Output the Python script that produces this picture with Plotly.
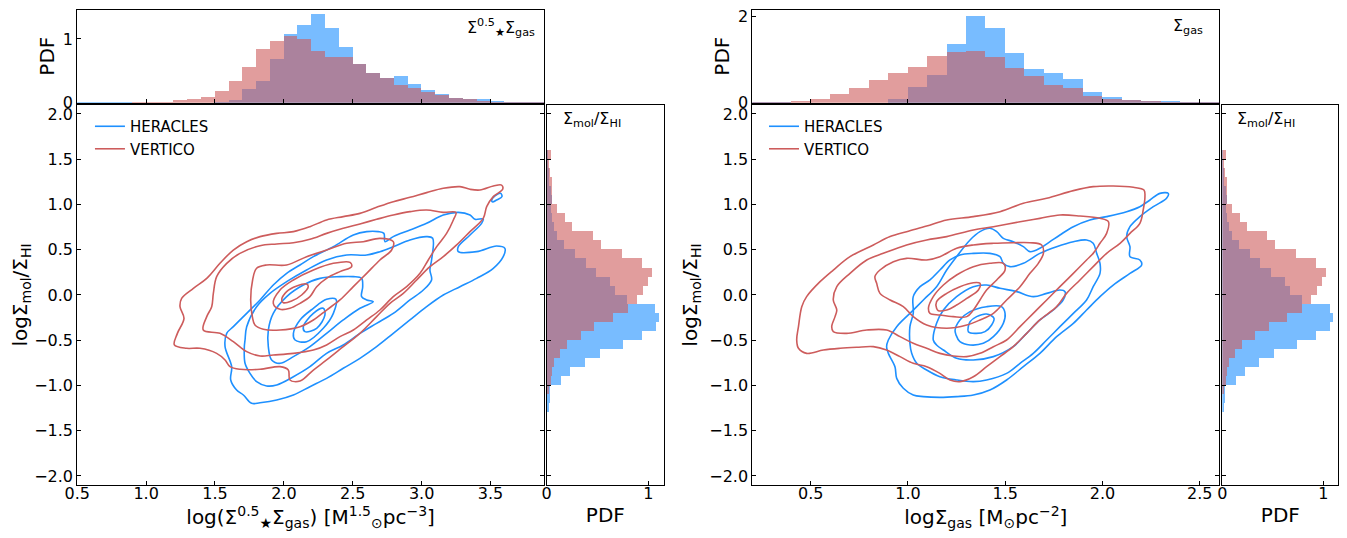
import plotly.graph_objects as go

FONT = "DejaVu Sans"
BLUE = "#1E90FF"
RED = "#CD5C5C"

# ---------------- histogram data (bin lower edges, bin width 0.1) ----------------
top_left_edges = [0.5, 0.6, 0.7, 0.8, 0.9, 1.0, 1.1, 1.2, 1.3, 1.4, 1.5, 1.6, 1.7, 1.8, 1.9, 2.0, 2.1,
                  2.2, 2.3, 2.4, 2.5, 2.6, 2.7, 2.8, 2.9, 3.0, 3.1, 3.2, 3.3, 3.4, 3.5, 3.6, 3.7, 3.8]
top_left_heracles = [0.005, 0.005, 0.005, 0.005, 0.0, 0.0, 0.0, 0.0, 0.0, 0.0, 0.005, 0.05, 0.22, 0.35, 0.69,
                     1.08, 1.23, 1.39, 1.18, 0.88, 0.62, 0.48, 0.40, 0.42, 0.30, 0.21, 0.15, 0.08, 0.07,
                     0.06, 0.03, 0.01, 0.01, 0.025]
top_left_vertico = [0.0, 0.0, 0.0, 0.0, 0.01, 0.01, 0.01, 0.055, 0.07, 0.10, 0.19, 0.35, 0.56, 0.85, 0.97,
                    1.06, 1.01, 0.81, 0.73, 0.73, 0.62, 0.47, 0.39, 0.29, 0.23, 0.17, 0.13, 0.08, 0.06,
                    0.04, 0.025, 0.015, 0.01, 0.005]

top_right_edges = [0.2, 0.3, 0.4, 0.5, 0.6, 0.7, 0.8, 0.9, 1.0, 1.1, 1.2, 1.3, 1.4, 1.5, 1.6, 1.7,
                   1.8, 1.9, 2.0, 2.1, 2.2, 2.3, 2.4, 2.5]
top_right_heracles = [0.01, 0.01, 0.0, 0.0, 0.0, 0.0, 0.0, 0.10, 0.37, 0.66, 1.38, 2.02, 1.74, 1.16,
                      0.78, 0.71, 0.57, 0.26, 0.15, 0.08, 0.06, 0.04, 0.015, 0.015]
top_right_vertico = [0.015, 0.015, 0.06, 0.10, 0.22, 0.35, 0.53, 0.71, 0.84, 1.09, 1.18, 1.22, 1.07,
                     0.82, 0.62, 0.42, 0.35, 0.17, 0.10, 0.08, 0.04, 0.015, 0.015, 0.01]

ratio_edges = [1.5, 1.4, 1.3, 1.2, 1.1, 1.0, 0.9, 0.8, 0.7, 0.6, 0.5, 0.4, 0.3, 0.2, 0.1, 0.0, -0.1,
               -0.2, -0.3, -0.4, -0.5, -0.6, -0.7, -0.8, -0.9, -1.0, -1.1, -1.2, -1.3]
ratio_heracles = [0.007, 0.007, 0.013, 0.020, 0.043, 0.046, 0.043, 0.046, 0.073, 0.102, 0.165, 0.274,
                  0.380, 0.482, 0.620, 0.670, 0.789, 1.066, 1.102, 1.073, 0.934, 0.746, 0.518, 0.370,
                  0.231, 0.142, 0.033, 0.033, 0.010]
ratio_vertico = [0.036, 0.023, 0.030, 0.050, 0.053, 0.053, 0.102, 0.182, 0.251, 0.449, 0.528, 0.736,
                 0.934, 1.033, 0.993, 0.944, 0.884, 0.795, 0.647, 0.462, 0.330, 0.201, 0.132, 0.066,
                 0.053, 0.036, 0.010, 0.0, 0.0]

# ---------------- density contours (x, y) ----------------
# left panel: x = log(S*^0.5 Sgas), y = log(Smol/SHI)
left_heracles_1 = [[1.585,-0.424],[1.573,-0.571],[1.621,-0.792],[1.614,-0.939],[1.657,-1.050],[1.706,-1.105],[1.766,-1.197],[1.827,-1.190],[1.948,-1.160],[2.069,-1.105],[2.189,-1.013],[2.310,-0.921],[2.431,-0.810],[2.552,-0.700],[2.673,-0.571],[2.794,-0.424],[2.915,-0.276],[3.036,-0.129],[3.157,0.000],[3.278,0.092],[3.399,0.184],[3.520,0.295],[3.592,0.424],[3.604,0.516],[3.544,0.542],[3.399,0.479],[3.266,0.479],[3.266,0.534],[3.351,0.663],[3.435,0.792],[3.447,0.840],[3.387,0.836],[3.351,0.884],[3.266,0.913],[3.157,0.884],[3.036,0.792],[2.915,0.718],[2.794,0.645],[2.734,0.589],[2.726,0.681],[2.685,0.700],[2.601,0.700],[2.504,0.663],[2.359,0.534],[2.214,0.424],[2.117,0.332],[2.020,0.239],[1.923,0.110],[1.827,-0.055],[1.730,-0.203],[1.633,-0.350]]
left_heracles_island = [[3.508,1.042],[3.532,1.094],[3.573,1.123],[3.583,1.087],[3.544,1.050],[3.515,1.028]]
left_heracles_2 = [[1.718,-0.497],[1.730,-0.350],[1.802,-0.129],[1.899,0.018],[2.020,0.147],[2.165,0.276],[2.310,0.387],[2.456,0.442],[2.601,0.442],[2.697,0.479],[2.794,0.534],[2.915,0.608],[3.036,0.645],[3.080,0.626],[3.072,0.387],[3.060,0.276],[3.072,0.166],[3.012,0.055],[2.915,-0.055],[2.794,-0.203],[2.673,-0.313],[2.552,-0.424],[2.431,-0.552],[2.310,-0.645],[2.189,-0.792],[2.069,-0.903],[1.948,-0.994],[1.875,-1.005],[1.802,-0.957],[1.754,-0.866],[1.718,-0.755],[1.713,-0.571]]
left_heracles_3 = [[1.887,-0.387],[1.923,-0.203],[2.020,-0.018],[2.141,0.110],[2.262,0.184],[2.407,0.203],[2.504,0.203],[2.564,0.184],[2.572,0.092],[2.564,-0.018],[2.601,-0.055],[2.649,-0.074],[2.552,-0.147],[2.431,-0.276],[2.310,-0.424],[2.189,-0.571],[2.069,-0.681],[1.972,-0.755],[1.911,-0.718],[1.887,-0.571]]
left_heracles_4 = [[2.069,-0.424],[2.117,-0.276],[2.214,-0.147],[2.310,-0.048],[2.378,-0.048],[2.359,-0.203],[2.286,-0.368],[2.165,-0.516],[2.081,-0.497]]
left_heracles_5 = [[2.141,-0.350],[2.214,-0.203],[2.286,-0.147],[2.298,-0.221],[2.238,-0.368],[2.153,-0.405]]

left_vertico_1 = [[1.205,-0.552],[1.227,-0.424],[1.275,-0.258],[1.246,-0.129],[1.258,-0.037],[1.343,0.074],[1.440,0.184],[1.536,0.350],[1.633,0.497],[1.730,0.589],[1.827,0.645],[1.948,0.681],[2.069,0.700],[2.189,0.755],[2.310,0.829],[2.431,0.866],[2.552,0.902],[2.673,0.969],[2.794,1.031],[2.915,1.079],[3.036,1.131],[3.157,1.179],[3.278,1.197],[3.351,1.168],[3.423,1.160],[3.520,1.204],[3.580,1.215],[3.588,1.168],[3.520,1.087],[3.472,0.976],[3.447,0.847],[3.351,0.700],[3.254,0.553],[3.157,0.424],[3.060,0.313],[2.964,0.166],[2.867,0.018],[2.770,-0.092],[2.673,-0.239],[2.552,-0.424],[2.431,-0.571],[2.310,-0.718],[2.214,-0.829],[2.117,-0.950],[2.044,-0.939],[2.032,-0.829],[1.972,-0.792],[1.827,-0.821],[1.681,-0.821],[1.609,-0.792],[1.573,-0.718],[1.512,-0.645],[1.391,-0.589],[1.294,-0.589]]
left_vertico_2 = [[1.415,-0.387],[1.440,-0.239],[1.476,-0.129],[1.488,0.018],[1.512,0.203],[1.585,0.350],[1.681,0.460],[1.827,0.545],[1.948,0.564],[2.069,0.578],[2.189,0.615],[2.310,0.681],[2.431,0.737],[2.552,0.785],[2.673,0.836],[2.794,0.884],[2.915,0.921],[3.036,0.939],[3.157,0.913],[3.249,0.913],[3.230,0.829],[3.181,0.681],[3.109,0.534],[3.048,0.387],[2.988,0.239],[2.891,0.092],[2.794,-0.018],[2.697,-0.166],[2.601,-0.276],[2.504,-0.387],[2.407,-0.460],[2.310,-0.552],[2.214,-0.608],[2.069,-0.645],[1.923,-0.663],[1.827,-0.674],[1.730,-0.626],[1.633,-0.516],[1.536,-0.424]]
left_vertico_3 = [[1.771,-0.239],[1.759,-0.055],[1.773,0.166],[1.802,0.295],[1.875,0.332],[2.020,0.332],[2.165,0.424],[2.310,0.497],[2.456,0.571],[2.576,0.589],[2.697,0.626],[2.794,0.589],[2.782,0.497],[2.697,0.387],[2.601,0.239],[2.504,0.092],[2.407,-0.055],[2.310,-0.166],[2.214,-0.276],[2.117,-0.350],[1.972,-0.387],[1.851,-0.379],[1.790,-0.332]]
left_vertico_4 = [[1.923,-0.092],[1.972,0.055],[2.069,0.166],[2.214,0.276],[2.359,0.350],[2.480,0.361],[2.492,0.313],[2.407,0.258],[2.310,0.184],[2.238,0.092],[2.189,-0.018],[2.117,-0.092],[2.044,-0.147],[1.972,-0.158]]
left_vertico_5 = [[1.984,-0.055],[2.020,0.037],[2.093,0.099],[2.165,0.122],[2.177,0.092],[2.129,0.000],[2.056,-0.066],[1.996,-0.085]]

# right panel: x = log(Sgas), y = log(Smol/SHI)
right_heracles_1 = [[0.890,-0.571],[0.899,-0.497],[0.942,-0.350],[1.010,-0.203],[1.079,-0.055],[1.147,0.092],[1.199,0.276],[1.250,0.424],[1.319,0.608],[1.370,0.700],[1.421,0.737],[1.456,0.700],[1.490,0.626],[1.541,0.589],[1.593,0.534],[1.627,0.479],[1.678,0.516],[1.730,0.589],[1.781,0.663],[1.850,0.755],[1.935,0.829],[2.021,0.866],[2.124,0.921],[2.192,0.976],[2.244,1.050],[2.295,1.123],[2.338,1.123],[2.329,1.068],[2.261,0.976],[2.192,0.866],[2.141,0.755],[2.124,0.645],[2.141,0.534],[2.141,0.424],[2.192,0.387],[2.201,0.332],[2.141,0.239],[2.055,0.110],[1.987,-0.018],[1.918,-0.166],[1.850,-0.313],[1.764,-0.460],[1.678,-0.645],[1.593,-0.792],[1.507,-0.939],[1.421,-1.050],[1.336,-1.105],[1.250,-1.123],[1.164,-1.131],[1.079,-1.123],[1.027,-1.105],[0.976,-1.031],[0.942,-0.921],[0.933,-0.792],[0.899,-0.645]]
right_heracles_2 = [[1.010,-0.534],[1.010,-0.350],[1.027,-0.203],[1.027,-0.018],[1.062,0.092],[1.113,0.166],[1.164,0.276],[1.216,0.387],[1.267,0.442],[1.336,0.460],[1.421,0.460],[1.473,0.424],[1.490,0.350],[1.524,0.313],[1.593,0.350],[1.678,0.460],[1.764,0.534],[1.850,0.589],[1.918,0.608],[1.952,0.571],[1.970,0.460],[1.987,0.350],[1.987,0.239],[1.952,0.092],[1.918,-0.055],[1.850,-0.203],[1.781,-0.350],[1.713,-0.497],[1.644,-0.645],[1.576,-0.755],[1.507,-0.866],[1.404,-0.939],[1.336,-0.957],[1.250,-0.939],[1.164,-0.903],[1.096,-0.829],[1.045,-0.755],[1.019,-0.645]]
right_heracles_3 = [[1.130,-0.497],[1.147,-0.313],[1.182,-0.166],[1.250,-0.018],[1.336,0.092],[1.404,0.110],[1.473,0.074],[1.559,0.037],[1.644,-0.018],[1.713,0.018],[1.781,0.055],[1.807,0.037],[1.798,-0.055],[1.747,-0.166],[1.678,-0.276],[1.610,-0.424],[1.541,-0.571],[1.439,-0.681],[1.336,-0.718],[1.250,-0.700],[1.182,-0.608],[1.147,-0.552]]
right_heracles_4 = [[1.242,-0.387],[1.267,-0.276],[1.319,-0.184],[1.404,-0.129],[1.481,-0.129],[1.499,-0.203],[1.490,-0.313],[1.439,-0.460],[1.387,-0.534],[1.319,-0.552],[1.267,-0.516],[1.247,-0.442]]
right_heracles_5 = [[1.310,-0.350],[1.319,-0.295],[1.353,-0.239],[1.404,-0.210],[1.442,-0.258],[1.430,-0.332],[1.396,-0.405],[1.344,-0.424],[1.310,-0.405]]

right_vertico_1 = [[0.428,-0.497],[0.437,-0.350],[0.454,-0.129],[0.479,-0.018],[0.548,0.147],[0.616,0.276],[0.702,0.424],[0.822,0.553],[0.908,0.645],[0.993,0.700],[1.096,0.762],[1.199,0.829],[1.336,0.866],[1.473,0.921],[1.593,1.013],[1.713,1.068],[1.850,1.153],[1.952,1.197],[2.055,1.204],[2.158,1.190],[2.213,1.160],[2.218,1.087],[2.209,0.939],[2.192,0.792],[2.141,0.681],[2.090,0.571],[2.021,0.460],[1.952,0.313],[1.884,0.166],[1.815,0.018],[1.764,-0.129],[1.678,-0.276],[1.610,-0.424],[1.541,-0.571],[1.473,-0.681],[1.404,-0.792],[1.336,-0.903],[1.267,-0.957],[1.216,-0.939],[1.164,-0.866],[1.096,-0.792],[1.027,-0.755],[0.959,-0.681],[0.890,-0.608],[0.822,-0.571],[0.736,-0.578],[0.651,-0.589],[0.565,-0.608],[0.479,-0.645],[0.437,-0.589]]
right_vertico_2 = [[0.608,-0.350],[0.625,-0.239],[0.634,-0.166],[0.616,-0.055],[0.634,0.092],[0.702,0.239],[0.788,0.387],[0.873,0.460],[0.993,0.553],[1.096,0.608],[1.199,0.645],[1.336,0.718],[1.439,0.755],[1.576,0.810],[1.678,0.847],[1.781,0.884],[1.884,0.873],[1.987,0.847],[2.030,0.810],[2.021,0.681],[1.987,0.571],[1.952,0.460],[1.918,0.387],[1.850,0.239],[1.781,0.092],[1.713,-0.055],[1.644,-0.203],[1.576,-0.350],[1.507,-0.497],[1.439,-0.571],[1.370,-0.645],[1.302,-0.681],[1.233,-0.674],[1.164,-0.645],[1.096,-0.589],[1.027,-0.534],[0.959,-0.460],[0.890,-0.387],[0.788,-0.387],[0.685,-0.424],[0.616,-0.405]]
right_vertico_3 = [[0.839,0.129],[0.830,0.203],[0.856,0.276],[0.925,0.368],[0.993,0.405],[1.096,0.387],[1.164,0.424],[1.250,0.516],[1.336,0.553],[1.439,0.571],[1.541,0.578],[1.627,0.578],[1.687,0.553],[1.696,0.460],[1.670,0.350],[1.627,0.239],[1.576,0.092],[1.507,-0.055],[1.439,-0.203],[1.370,-0.276],[1.302,-0.332],[1.199,-0.368],[1.096,-0.332],[1.027,-0.239],[0.976,-0.129],[0.908,-0.055],[0.856,0.018]]
right_vertico_4 = [[1.105,-0.147],[1.130,-0.018],[1.182,0.110],[1.250,0.221],[1.336,0.313],[1.421,0.350],[1.490,0.350],[1.499,0.276],[1.456,0.166],[1.404,0.055],[1.370,-0.055],[1.336,-0.166],[1.302,-0.239],[1.233,-0.239],[1.164,-0.221],[1.113,-0.203]]
right_vertico_5 = [[1.147,-0.147],[1.147,-0.074],[1.199,0.018],[1.267,0.092],[1.336,0.136],[1.370,0.129],[1.362,0.055],[1.302,-0.037],[1.250,-0.111],[1.199,-0.166],[1.156,-0.173]]

left_heracles = [left_heracles_1, left_heracles_island, left_heracles_2, left_heracles_3, left_heracles_4, left_heracles_5]
left_vertico = [left_vertico_1, left_vertico_2, left_vertico_3, left_vertico_4, left_vertico_5]
right_heracles = [right_heracles_1, right_heracles_2, right_heracles_3, right_heracles_4, right_heracles_5]
right_vertico = [right_vertico_1, right_vertico_2, right_vertico_3, right_vertico_4, right_vertico_5]

main_x_ticks_left = [0.5, 1.0, 1.5, 2.0, 2.5, 3.0, 3.5]
main_x_ticks_right = [0.5, 1.0, 1.5, 2.0, 2.5]
main_y_ticks = [-2.0, -1.5, -1.0, -0.5, 0.0, 0.5, 1.0, 1.5, 2.0]

fig = go.Figure()


def add_contours(paths, color, name, xa, ya, legend):
    for i, path in enumerate(paths):
        xs = [p[0] for p in path] + [path[0][0]]
        ys = [p[1] for p in path] + [path[0][1]]
        fig.add_trace(go.Scatter(
            x=xs, y=ys, mode="lines", xaxis=xa, yaxis=ya,
            line=dict(color=color, width=1.6, shape="spline", smoothing=1.0),
            name=name, legendgroup=name + legend, showlegend=(i == 0), legend=legend,
            hoverinfo="skip"))


def add_bars(pos, val, color, xa, ya, horizontal=False):
    if horizontal:
        tr = go.Bar(y=pos, x=val, orientation="h", width=0.1, offset=0)
    else:
        tr = go.Bar(x=pos, y=val, width=0.1, offset=0)
    tr.update(marker=dict(color=color, opacity=0.6, line=dict(width=0)),
              xaxis=xa, yaxis=ya, showlegend=False, hoverinfo="skip")
    fig.add_trace(tr)


# histograms: HERACLES first, VERTICO drawn over it
add_bars(top_left_edges, top_left_heracles, BLUE, "x2", "y2")
add_bars(top_left_edges, top_left_vertico, RED, "x2", "y2")
add_bars(ratio_edges, ratio_heracles, BLUE, "x3", "y3", horizontal=True)
add_bars(ratio_edges, ratio_vertico, RED, "x3", "y3", horizontal=True)
add_bars(top_right_edges, top_right_heracles, BLUE, "x5", "y5")
add_bars(top_right_edges, top_right_vertico, RED, "x5", "y5")
add_bars(ratio_edges, ratio_heracles, BLUE, "x6", "y6", horizontal=True)
add_bars(ratio_edges, ratio_vertico, RED, "x6", "y6", horizontal=True)

add_contours(left_heracles, BLUE, "HERACLES", "x", "y", "legend")
add_contours(left_vertico, RED, "VERTICO", "x", "y", "legend")
add_contours(right_heracles, BLUE, "HERACLES", "x4", "y4", "legend2")
add_contours(right_vertico, RED, "VERTICO", "x4", "y4", "legend2")

tickfont = dict(family=FONT, size=16, color="black")
titlefont = dict(family=FONT, size=20, color="black")


def ax(**kw):
    base = dict(showline=True, linecolor="black", linewidth=1, mirror=True, ticks="inside",
                ticklen=4, tickcolor="black", showgrid=False, zeroline=False, tickfont=tickfont,
                automargin=False, ticklabeloverflow="allow")
    base.update(kw)
    return base


# page is drawn 8px in from the window's top-left corner; figure sized to fit the window
W, H = 1339, 530
Y_MAIN = [0.1006, 0.8164]
Y_TOP = [0.8213, 0.997]
ymain_title = dict(text="logΣ<sub>mol</sub>/Σ<sub>HI</sub>", font=titlefont, standoff=6)
xlab_shift = -6

fig.update_layout(
    width=W, height=H,
    margin=dict(l=0, r=0, t=0, b=0),
    paper_bgcolor="white", plot_bgcolor="white",
    barmode="overlay", bargap=0, hovermode=False,
    font=dict(family=FONT, color="black"),
    # left panel
    xaxis=ax(domain=[0.0517, 0.4003], range=[0.5, 3.888], anchor="y", tickvals=main_x_ticks_left,
             tickformat=".1f", ticklabelstandoff=xlab_shift,
             title=dict(text="log(Σ<sup>0.5</sup><sub>★</sub>Σ<sub>gas</sub>) [M<sup>1.5</sup><sub>⊙</sub>pc<sup>−3</sup>]",
                        font=titlefont, standoff=6)),
    yaxis=ax(domain=Y_MAIN, range=[-2.096, 2.096], anchor="x", tickvals=main_y_ticks, tickformat=".1f",
             mirror="ticks", title=ymain_title),
    xaxis2=ax(domain=[0.0517, 0.4003], range=[0.5, 3.888], anchor="y2", matches="x",
              tickvals=main_x_ticks_left, showticklabels=False),
    yaxis2=ax(domain=Y_TOP, range=[0, 1.46], anchor="x2", tickvals=[0, 1],
              title=dict(text="PDF", font=titlefont, standoff=2)),
    xaxis3=ax(domain=[0.4023, 0.4899], range=[0, 1.155], anchor="y3", tickvals=[0, 1],
              ticklabelstandoff=xlab_shift,
              title=dict(text="PDF", font=titlefont, standoff=6)),
    yaxis3=ax(domain=Y_MAIN, range=[-2.096, 2.096], anchor="x3", matches="y",
              tickvals=main_y_ticks, showticklabels=False),
    # right panel
    xaxis4=ax(domain=[0.5559, 0.9046], range=[0.2, 2.6], anchor="y4", tickvals=main_x_ticks_right,
              tickformat=".1f", ticklabelstandoff=xlab_shift,
              title=dict(text="logΣ<sub>gas</sub> [M<sub>⊙</sub>pc<sup>−2</sup>]", font=titlefont, standoff=6)),
    yaxis4=ax(domain=Y_MAIN, range=[-2.096, 2.096], anchor="x4", tickvals=main_y_ticks, tickformat=".1f",
              mirror="ticks", title=ymain_title),
    xaxis5=ax(domain=[0.5559, 0.9046], range=[0.2, 2.6], anchor="y5", matches="x4",
              tickvals=main_x_ticks_right, showticklabels=False),
    yaxis5=ax(domain=Y_TOP, range=[0, 2.16], anchor="x5", tickvals=[0, 2],
              title=dict(text="PDF", font=titlefont, standoff=2)),
    xaxis6=ax(domain=[0.9069, 0.9935], range=[0, 1.148], anchor="y6", tickvals=[0, 1],
              ticklabelstandoff=xlab_shift,
              title=dict(text="PDF", font=titlefont, standoff=6)),
    yaxis6=ax(domain=Y_MAIN, range=[-2.096, 2.096], anchor="x6", matches="y4",
              tickvals=main_y_ticks, showticklabels=False),
    legend=dict(x=0.0612, y=0.8075, xanchor="left", yanchor="top", bgcolor="rgba(0,0,0,0)",
                font=dict(family=FONT, size=15, color="black"), itemwidth=30, tracegroupgap=0),
    legend2=dict(x=0.5646, y=0.8075, xanchor="left", yanchor="top", bgcolor="rgba(0,0,0,0)",
                 font=dict(family=FONT, size=15, color="black"), itemwidth=30, tracegroupgap=0),
    annotations=[
        dict(text="Σ<sup>0.5</sup><sub>★</sub>Σ<sub>gas</sub>", xref="x2 domain", yref="y2 domain",
             x=0.985, y=0.95, xanchor="right", yanchor="top", showarrow=False,
             font=dict(family=FONT, size=16, color="black")),
        dict(text="Σ<sub>gas</sub>", xref="x5 domain", yref="y5 domain",
             x=0.97, y=0.95, xanchor="right", yanchor="top", showarrow=False,
             font=dict(family=FONT, size=16, color="black")),
        dict(text="Σ<sub>mol</sub>/Σ<sub>HI</sub>", xref="x3 domain", yref="y3 domain",
             x=0.12, y=0.995, xanchor="left", yanchor="top", showarrow=False,
             font=dict(family=FONT, size=16, color="black")),
        dict(text="Σ<sub>mol</sub>/Σ<sub>HI</sub>", xref="x6 domain", yref="y6 domain",
             x=0.11, y=0.995, xanchor="left", yanchor="top", showarrow=False,
             font=dict(family=FONT, size=16, color="black")),
    ],
)

fig.write_html("out.html")
